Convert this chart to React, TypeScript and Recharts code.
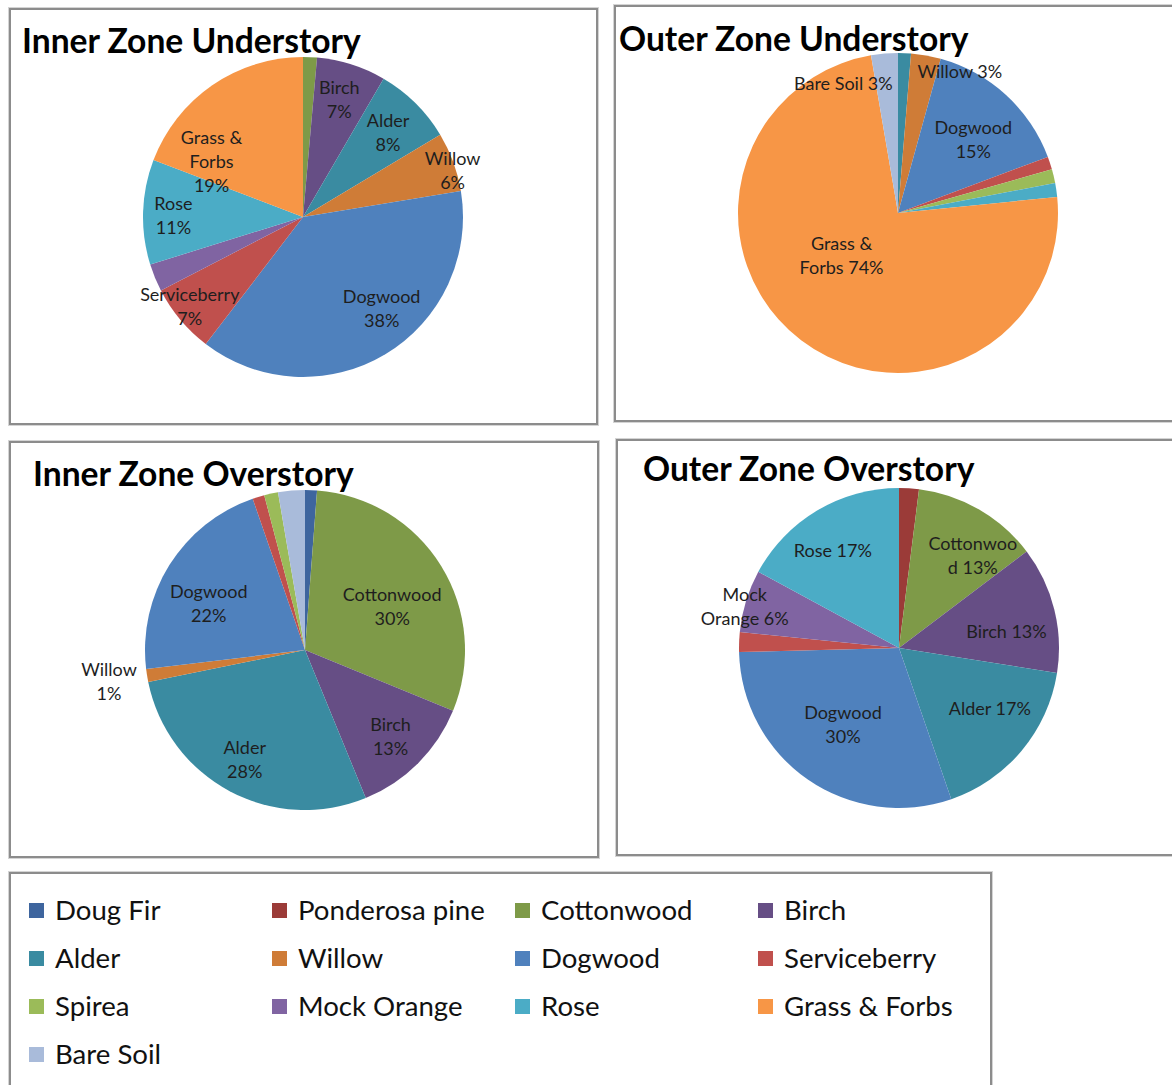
import React from 'react';
import { PieChart, Pie, Cell } from 'recharts';

// ---------- data ----------
const SPECIES = [
  'Doug Fir', 'Ponderosa pine', 'Cottonwood', 'Birch',
  'Alder', 'Willow', 'Dogwood', 'Serviceberry',
  'Spirea', 'Mock Orange', 'Rose', 'Grass & Forbs',
  'Bare Soil',
];
const SPECIES_COLORS = [
  '#3E659E', '#9B3B38', '#7E9A48', '#664E85',
  '#3A8BA1', '#CF7C37', '#4F81BD', '#C0504D',
  '#9BBB59', '#8064A2', '#4BACC6', '#F79646',
  '#A9BBDA',
];

const innerUnderstoryNames = ['Cottonwood', 'Birch', 'Alder', 'Willow', 'Dogwood', 'Serviceberry', 'Mock Orange', 'Rose', 'Grass & Forbs'];
const innerUnderstoryValues = [1.4, 7, 8, 6, 38, 7, 2.8, 10.6, 19.2];

const outerUnderstoryNames = ['Alder', 'Willow', 'Dogwood', 'Serviceberry', 'Spirea', 'Rose', 'Grass & Forbs', 'Bare Soil'];
const outerUnderstoryValues = [1.3, 3, 15, 1.3, 1.4, 1.4, 73.9, 2.7];

const innerOverstoryNames = ['Doug Fir', 'Cottonwood', 'Birch', 'Alder', 'Willow', 'Dogwood', 'Serviceberry', 'Spirea', 'Bare Soil'];
const innerOverstoryValues = [1.2, 30, 12.6, 28, 1.3, 21.6, 1.2, 1.4, 2.7];

const outerOverstoryNames = ['Ponderosa pine', 'Cottonwood', 'Birch', 'Alder', 'Dogwood', 'Serviceberry', 'Mock Orange', 'Rose'];
const outerOverstoryValues = [2, 12.7, 12.8, 17.2, 29.9, 2, 6.3, 17.1];

// label text lines ({p} = percentage)
const innerUnderstoryLabelText: Record<string, string[]> = {
  Birch: ['Birch', '{p}'],
  Alder: ['Alder', '{p}'],
  Willow: ['Willow', '{p}'],
  Dogwood: ['Dogwood', '{p}'],
  Serviceberry: ['Serviceberry', '{p}'],
  Rose: ['Rose', '{p}'],
  'Grass & Forbs': ['Grass &', 'Forbs', '{p}'],
};
const outerUnderstoryLabelText: Record<string, string[]> = {
  Willow: ['Willow {p}'],
  Dogwood: ['Dogwood', '{p}'],
  'Grass & Forbs': ['Grass &', 'Forbs {p}'],
  'Bare Soil': ['Bare Soil {p}'],
};
const innerOverstoryLabelText: Record<string, string[]> = {
  Cottonwood: ['Cottonwood', '{p}'],
  Birch: ['Birch', '{p}'],
  Alder: ['Alder', '{p}'],
  Willow: ['Willow', '{p}'],
  Dogwood: ['Dogwood', '{p}'],
};
const outerOverstoryLabelText: Record<string, string[]> = {
  Cottonwood: ['Cottonwoo', 'd {p}'],
  Birch: ['Birch {p}'],
  Alder: ['Alder {p}'],
  Dogwood: ['Dogwood', '{p}'],
  'Mock Orange': ['Mock', 'Orange {p}'],
  Rose: ['Rose {p}'],
};

// ---------- layout (label placement: radius fraction, clockwise angle shift) ----------
const innerUnderstoryLabelPos: Record<string, [number, number]> = {
  Birch: [0.77, -0.5], Alder: [0.75, 0.5], Willow: [0.98, 2.7], Dogwood: [0.75, -10],
  Serviceberry: [0.9, 1.8], Rose: [0.81, -1], 'Grass & Forbs': [0.67, -24],
};
const outerUnderstoryLabelPos: Record<string, [number, number]> = {
  Willow: [0.97, 13.4], Dogwood: [0.66, 3], 'Grass & Forbs': [0.44, 16], 'Bare Soil': [0.88, -18],
};
const innerOverstoryLabelPos: Record<string, [number, number]> = {
  Cottonwood: [0.61, 5], Birch: [0.76, 0.3], Alder: [0.78, 0.8], Willow: [1.24, 0.2], Dogwood: [0.67, -6],
};
const outerOverstoryLabelPos: Record<string, [number, number]> = {
  Cottonwood: [0.74, 8.5], Birch: [0.68, 5], Alder: [0.68, -6.6], Dogwood: [0.59, 1.7],
  'Mock Orange': [1.0, -1.7], Rose: [0.74, -3.2],
};

const FONT = 'Lato, "Open Sans", Arial, sans-serif';
const RAD = Math.PI / 180;
const R = 160;

type Panel = {
  title: string;
  names: string[];
  values: number[];
  labelText: Record<string, string[]>;
  labelPos: Record<string, [number, number]>;
  box: { left: number; top: number; width: number; height: number };
  cx: number;
  cy: number;
  titleX: number;
  titleY: number;
};

const PANELS: Panel[] = [
  {
    title: 'Inner Zone Understory', names: innerUnderstoryNames, values: innerUnderstoryValues,
    labelText: innerUnderstoryLabelText, labelPos: innerUnderstoryLabelPos,
    box: { left: 9, top: 8, width: 589, height: 417 }, cx: 303, cy: 217, titleX: 22, titleY: 53,
  },
  {
    title: 'Outer Zone Understory', names: outerUnderstoryNames, values: outerUnderstoryValues,
    labelText: outerUnderstoryLabelText, labelPos: outerUnderstoryLabelPos,
    box: { left: 614, top: 5, width: 580, height: 417 }, cx: 898, cy: 213, titleX: 619, titleY: 51,
  },
  {
    title: 'Inner Zone Overstory', names: innerOverstoryNames, values: innerOverstoryValues,
    labelText: innerOverstoryLabelText, labelPos: innerOverstoryLabelPos,
    box: { left: 9, top: 441, width: 590, height: 417 }, cx: 305, cy: 650, titleX: 33, titleY: 486,
  },
  {
    title: 'Outer Zone Overstory', names: outerOverstoryNames, values: outerOverstoryValues,
    labelText: outerOverstoryLabelText, labelPos: outerOverstoryLabelPos,
    box: { left: 616, top: 439, width: 580, height: 417 }, cx: 899, cy: 648, titleX: 643, titleY: 481,
  },
];

const colorOf = (name: string) => SPECIES_COLORS[SPECIES.indexOf(name)];

function makeLabel(p: Panel, data: { name: string; value: number }[]) {
  return (props: any) => {
    const { cx, cy, midAngle, outerRadius, percent, index } = props;
    const name = data[index]?.name;
    const text = p.labelText[name];
    const pos = p.labelPos[name];
    if (!text || !pos) return null;
    const a = midAngle - pos[1];
    const rr = outerRadius * pos[0];
    const x = cx + rr * Math.cos(-a * RAD);
    const y = cy + rr * Math.sin(-a * RAD);
    const pct = Math.round(percent * 100) + '%';
    const lines = text.map((l) => l.replace('{p}', pct));
    const lh = 24;
    const y0 = y - ((lines.length - 1) * lh) / 2;
    return (
      <text key={'l' + index} x={x} y={y0} textAnchor="middle" fill="#1e1e1e" fontSize={18} fontFamily={FONT}>
        {lines.map((l, i) => (
          <tspan key={i} x={x} y={y0 + i * lh} dominantBaseline="central">{l}</tspan>
        ))}
      </text>
    );
  };
}

function PanelView({ p }: { p: Panel }) {
  const data = p.names.map((n, i) => ({ name: n, value: p.values[i] }));
  return (
    <div style={{ position: 'absolute', left: p.box.left, top: p.box.top, width: p.box.width, height: p.box.height }}>
      <div style={{
        position: 'absolute', inset: 0, boxSizing: 'border-box',
        border: '2px solid #8c8c8c', boxShadow: '0 0 0 1px #d4d4d4',
      }} />
      <div style={{ position: 'absolute', left: 0, top: 0 }}>
        <PieChart width={p.box.width} height={p.box.height} margin={{ top: 0, right: 0, bottom: 0, left: 0 }}>
          <Pie
            data={data}
            dataKey="value"
            nameKey="name"
            cx={p.cx - p.box.left}
            cy={p.cy - p.box.top}
            outerRadius={R}
            startAngle={90}
            endAngle={-270}
            stroke="none"
            isAnimationActive={false}
            labelLine={false}
            label={makeLabel(p, data)}
          >
            {data.map((d) => (
              <Cell key={d.name} fill={colorOf(d.name)} stroke="none" />
            ))}
          </Pie>
        </PieChart>
      </div>
    </div>
  );
}

const LEGEND_BOX = { left: 9, top: 872, width: 983, height: 230 };

export default function App() {
  return (
    <div style={{ position: 'absolute', left: 0, top: 0, width: 1172, height: 1085, overflow: 'hidden', background: '#fff' }}>
      {PANELS.map((p) => <PanelView key={p.title} p={p} />)}
      <div style={{
        position: 'absolute', left: LEGEND_BOX.left, top: LEGEND_BOX.top, width: LEGEND_BOX.width, height: LEGEND_BOX.height,
        boxSizing: 'border-box', border: '2px solid #8c8c8c', boxShadow: '0 0 0 1px #d4d4d4',
      }} />
      <svg width={1172} height={1085} style={{ position: 'absolute', left: 0, top: 0, pointerEvents: 'none' }}>
        {PANELS.map((p) => (
          <text key={p.title} x={p.titleX} y={p.titleY} fontFamily={FONT} fontWeight={700} fontSize={33.6} fill="#000">
            {p.title}
          </text>
        ))}
        {SPECIES.map((s, i) => {
          const col = i % 4;
          const row = Math.floor(i / 4);
          const x = 29 + col * 243;
          const yc = 911 + row * 48;
          return (
            <g key={s}>
              <rect x={x} y={yc - 8} width={15} height={15} fill={SPECIES_COLORS[i]} />
              <text x={x + 26} y={yc + 9} fontFamily={FONT} fontSize={27.6} fill="#111">{s}</text>
            </g>
          );
        })}
      </svg>
    </div>
  );
}
